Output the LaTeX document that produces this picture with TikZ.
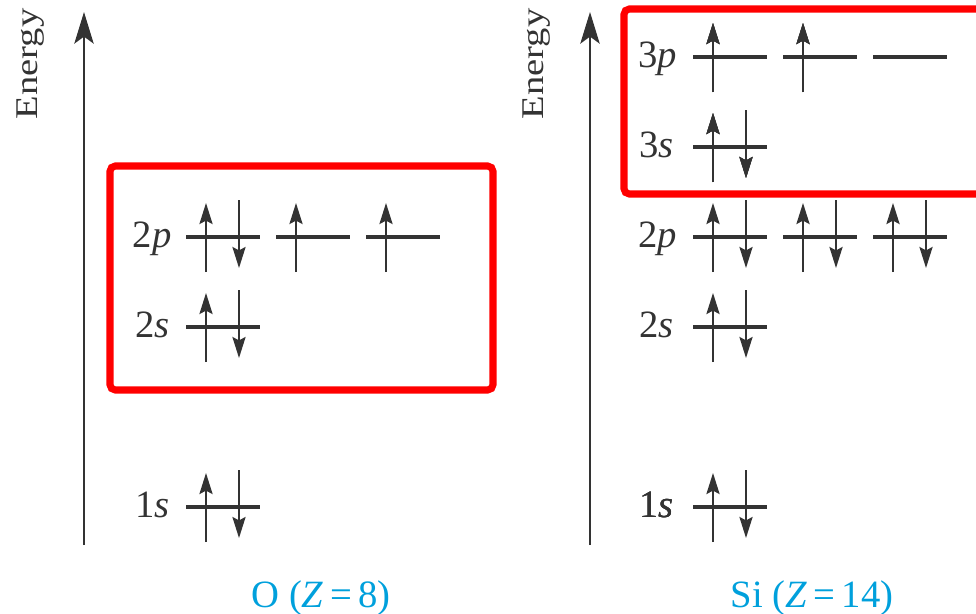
\documentclass[tikz,border=0pt]{standalone}
\usepackage{fontspec}
\setmainfont{Liberation Serif}
\usetikzlibrary{arrows.meta, calc}
\definecolor{levelgray}{RGB}{51,51,51}
\definecolor{boxred}{RGB}{255,0,0}
\definecolor{capblue}{RGB}{0,160,220}
\tikzset{
  axis/.style={line width=1.2pt, color=levelgray,
    -{Stealth[length=18pt, width=11pt, inset=4pt]}},
  level/.style={line width=2.4pt, color=levelgray},
  spin/.style={line width=1.1pt, color=levelgray,
    -{Stealth[length=12pt, width=7.5pt, inset=2pt]}},
  shell/.style={font=\fontsize{22}{24}\selectfont, anchor=base east,
    inner sep=0pt, text=levelgray},
  energylabel/.style={rotate=90, anchor=base, inner sep=0pt,
    font=\fontsize{18}{20}\selectfont, text=levelgray},
  valbox/.style={line width=4pt, color=boxred, rounded corners=3pt},
  caption/.style={font=\fontsize{22}{24}\selectfont, text=capblue,
    anchor=base, inner sep=0pt},
}
% orbital: name, x, y, electrons (0,1,2)
\newcommand{\orbital}[4]{%
  \coordinate (#1) at (#2,#3);
  \draw[level] ($(#1)+(-37,0)$) -- ($(#1)+(37,0)$);
  \ifnum#4>0 \draw[spin] ($(#1)+(-17,35)$) -- ($(#1)+(-17,-34)$);\fi
  \ifnum#4>1 \draw[spin] ($(#1)+(16,-37)$) -- ($(#1)+(16,31)$);\fi
}
\begin{document}
\begin{tikzpicture}[x=0.02cm, y=-0.02cm]
  \clip (0,0) rectangle (976,613);

  % Oxygen
  \coordinate (Obot) at (84,545);
  \coordinate (Otop) at (84,12);
  \draw[axis] (Obot) -- (Otop);
  \node[energylabel] (Oenergy) at (37,64) {\scalebox{1.22}[1]{Energy}};

  \orbital{O1s}{223}{507}{2}
  \orbital{O2s}{223}{327}{2}
  \orbital{O2pa}{223}{237}{2}
  \orbital{O2pb}{313}{237}{1}
  \orbital{O2pc}{403}{237}{1}
  \node[shell] (Olab1s) at (170,517) {1\textit{s}};
  \node[shell] (Olab2s) at (170,337) {2\textit{s}};
  \node[shell] (Olab2p) at (172,247) {2\textit{p}};
  \draw[valbox] (110,166) rectangle (493,390);
  \node[caption] (Ocap) at (321,607) {O (\textit{Z}\,=\,8)};

  % Silicon
  \coordinate (Sibot) at (590,545);
  \coordinate (Sitop) at (590,12);
  \draw[axis] (Sibot) -- (Sitop);
  \node[energylabel] (Sienergy) at (543,64) {\scalebox{1.22}[1]{Energy}};

  \orbital{Si1s}{730}{507}{2}
  \orbital{Si2s}{730}{327}{2}
  \foreach \x [count=\i] in {730,820,910}
    \orbital{Si2p\i}{\x}{237}{2}
  \orbital{Si3s}{730}{147}{2}
  \orbital{Si3pa}{730}{57}{1}
  \orbital{Si3pb}{820}{57}{1}
  \orbital{Si3pc}{910}{57}{0}
  \node[shell] (Silab1s) at (674,517) {1\textit{s}};
  \node[shell] (Silab2s) at (674,337) {2\textit{s}};
  \node[shell] (Silab2p) at (677,247) {2\textit{p}};
  \node[shell] (Silab3s) at (674,157) {3\textit{s}};
  \node[shell] (Silab3p) at (677,67) {3\textit{p}};
  \draw[valbox] (624,9) rectangle (1000,194);
  \node[caption] (Sicap) at (812,607) {Si (\textit{Z}\,=\,14)};
\end{tikzpicture}
\end{document}
